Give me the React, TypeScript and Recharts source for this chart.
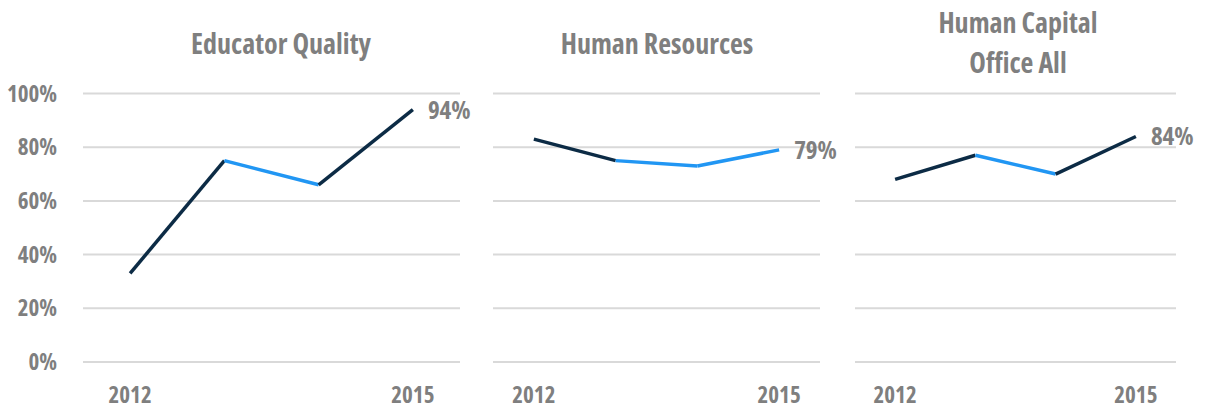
import { LineChart, Line, XAxis, YAxis, CartesianGrid, LabelList } from "recharts";

const years = ["2012", "2013", "2014", "2015"];
const shownYears = ["2012", "2015"];
const yTicks = [0, 20, 40, 60, 80, 100];

const educatorQuality = [33, 75, 66, 94];
const humanResources = [83, 75, 73, 79];
const humanCapital = [68, 77, 70, 84];

// colour of each segment between consecutive years
const educatorSegments = ["dark", "light", "dark"];
const resourcesSegments = ["dark", "light", "light"];
const capitalSegments = ["dark", "light", "dark"];

const DARK = "#0c2b45";
const LIGHT = "#2196f3";
const GREY = "#7f7f7f";
const FONT = "'Open Sans', 'Liberation Sans Narrow', sans-serif";

const textStyle = {
  fontFamily: FONT,
  fontWeight: 700,
  fontStretch: "condensed" as const,
  fill: GREY,
};

function buildRows(values: number[]) {
  return years.map((year, i) => {
    const row: Record<string, string | number | null> = { year };
    for (let s = 0; s < values.length - 1; s++) {
      row["s" + s] = i === s || i === s + 1 ? values[i] : null;
    }
    return row;
  });
}

interface PanelProps {
  title: string[];
  values: number[];
  segments: string[];
  left: number;
  width: number;
  plotWidth: number;
  showYAxis: boolean;
  titleCenter: number;
}

function Panel({ title, values, segments, left, width, plotWidth, showYAxis, titleCenter }: PanelProps) {
  const rows = buildRows(values);
  const axisWidth = showYAxis ? 83 : 0;
  const band = plotWidth / years.length;
  const last = values.length - 1;

  return (
    <div style={{ position: "absolute", left, top: 0, width, height: 409 }}>
      <div
        style={{
          position: "absolute",
          left: titleCenter - left - 150,
          width: 300,
          top: title.length > 1 ? 2 : 23,
          textAlign: "center",
          fontFamily: FONT,
          fontWeight: 700,
          fontStretch: "condensed",
          fontSize: 28,
          lineHeight: "40px",
          color: GREY,
        }}
      >
        {title.map((t) => (
          <div key={t}>{t}</div>
        ))}
      </div>
      <LineChart
        width={width}
        height={409}
        data={rows}
        margin={{ top: 93.5, right: width - axisWidth - plotWidth, bottom: 0, left: 0 }}
      >
        <CartesianGrid vertical={false} stroke="#d9d9d9" strokeWidth={2} />
        <XAxis
          dataKey="year"
          ticks={shownYears}
          interval={0}
          axisLine={false}
          tickLine={false}
          tickSize={0}
          tickMargin={25}
          height={47}
          padding={{ left: band / 2, right: band / 2 }}
          tick={{ ...textStyle, fontSize: 23 }}
        />
        <YAxis
          hide={!showYAxis}
          width={axisWidth}
          domain={[0, 100]}
          ticks={yTicks}
          axisLine={false}
          tickLine={false}
          tickSize={0}
          tickMargin={26}
          tickFormatter={(v: number) => `${v}%`}
          tick={{ ...textStyle, fontSize: 23 }}
        />
        {segments.map((seg, s) => (
          <Line
            key={s}
            dataKey={"s" + s}
            stroke={seg === "dark" ? DARK : LIGHT}
            strokeWidth={3.5}
            dot={false}
            activeDot={false}
            connectNulls={false}
            isAnimationActive={false}
          >
            {s === segments.length - 1 && (
              <LabelList
                dataKey={"s" + s}
                content={(p: any) =>
                  p.index === last ? (
                    <text
                      x={p.x + 15}
                      y={p.y}
                      dy="0.36em"
                      fontSize={25}
                      style={textStyle}
                      textAnchor="start"
                    >
                      {`${p.value}%`}
                    </text>
                  ) : null
                }
              />
            )}
          </Line>
        ))}
      </LineChart>
    </div>
  );
}

export default function App() {
  return (
    <div style={{ position: "absolute", left: 0, top: 0, width: 1208, height: 409, background: "#fff" }}>
      <Panel
        title={["Educator Quality"]}
        values={educatorQuality}
        segments={educatorSegments}
        left={0}
        width={490}
        plotWidth={377}
        showYAxis
        titleCenter={281}
      />
      <Panel
        title={["Human Resources"]}
        values={humanResources}
        segments={resourcesSegments}
        left={493}
        width={380}
        plotWidth={327}
        showYAxis={false}
        titleCenter={657}
      />
      <Panel
        title={["Human Capital", "Office All"]}
        values={humanCapital}
        segments={capitalSegments}
        left={855}
        width={353}
        plotWidth={321}
        showYAxis={false}
        titleCenter={1018}
      />
    </div>
  );
}
